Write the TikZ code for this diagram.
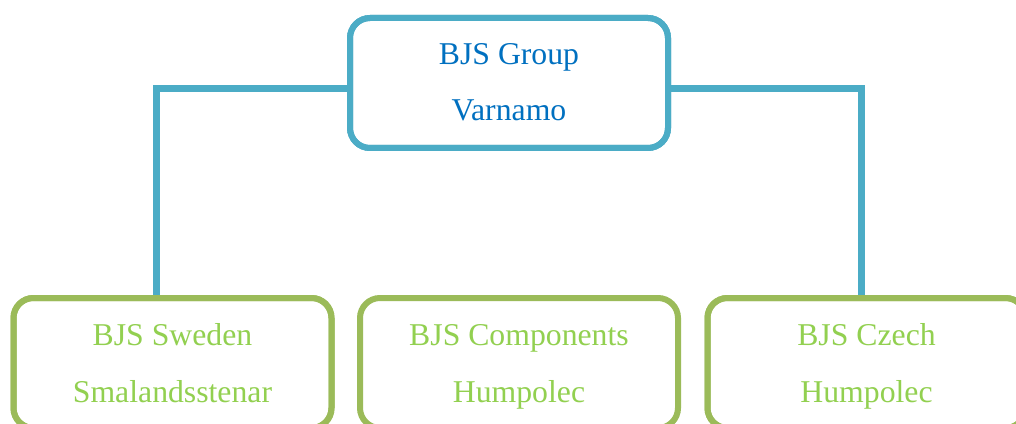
\documentclass[tikz,border=0pt]{standalone}
\usepackage{fontspec}
\setmainfont{Liberation Serif}
\usetikzlibrary{calc}
\definecolor{lineblue}{HTML}{4BACC6}
\definecolor{textblue}{HTML}{0070C0}
\definecolor{boxgreen}{HTML}{9BBB59}
\definecolor{textgreen}{HTML}{92D050}
\begin{document}
\begin{tikzpicture}[x=0.75pt,y=-0.75pt,
  orgbox/.style={draw, fill=white, line width=4.5pt, rounded corners=15pt,
    minimum width=238.5pt, minimum height=97.5pt, inner sep=0pt, outer sep=0pt},
  topbox/.style={orgbox, draw=lineblue},
  subbox/.style={orgbox, draw=boxgreen},
  conn/.style={draw=lineblue, line width=5.25pt, line join=miter},
  lbl/.style={anchor=base, inner sep=0pt, font=\fontsize{23.8pt}{28pt}\selectfont},
  toplbl/.style={lbl, text=textblue},
  sublbl/.style={lbl, text=textgreen}]
\useasboundingbox (0,0) rectangle (1016,424);
\clip (0,0) rectangle (1016,424);
\fill[white] (0,0) rectangle (1016,424);
% boxes
\node[topbox] (top) at (509,83) {};
\node[subbox] (sweden) at (172.5,363) {};
\node[subbox] (comp) at (519,363) {};
\node[subbox] (czech) at (866.5,363) {};
% connectors (drawn behind boxes' borders)
\begin{scope}[on background layer/.style={}]
\end{scope}
\coordinate (sw) at ($(sweden.north)+(-16.5,0)$);
\coordinate (cz) at ($(czech.north)+(-5,0)$);
\draw[conn] ($(top.west)+(0,5.5)$) -| (sw);
\draw[conn] ($(top.east)+(0,5.5)$) -| (cz);
% redraw box borders over connector ends
\node[topbox, fill=none] at (top) {};
\node[subbox, fill=none] at (sweden) {};
\node[subbox, fill=none] at (czech) {};
% labels
\node[toplbl] (t1) at ($(top.north)+(0,47)$) {BJS Group};
\node[toplbl] (t2) at ($(top.north)+(0,103)$) {Varnamo};
\node[sublbl] (s1) at ($(sweden.north)+(0,47)$) {BJS Sweden};
\node[sublbl] (s2) at ($(sweden.north)+(0,104)$) {Smalandsstenar};
\node[sublbl] (c1) at ($(comp.north)+(0,47)$) {BJS Components};
\node[sublbl] (c2) at ($(comp.north)+(0,104)$) {Humpolec};
\node[sublbl] (z1) at ($(czech.north)+(0,47)$) {BJS Czech};
\node[sublbl] (z2) at ($(czech.north)+(0,104)$) {Humpolec};
\end{tikzpicture}
\end{document}
